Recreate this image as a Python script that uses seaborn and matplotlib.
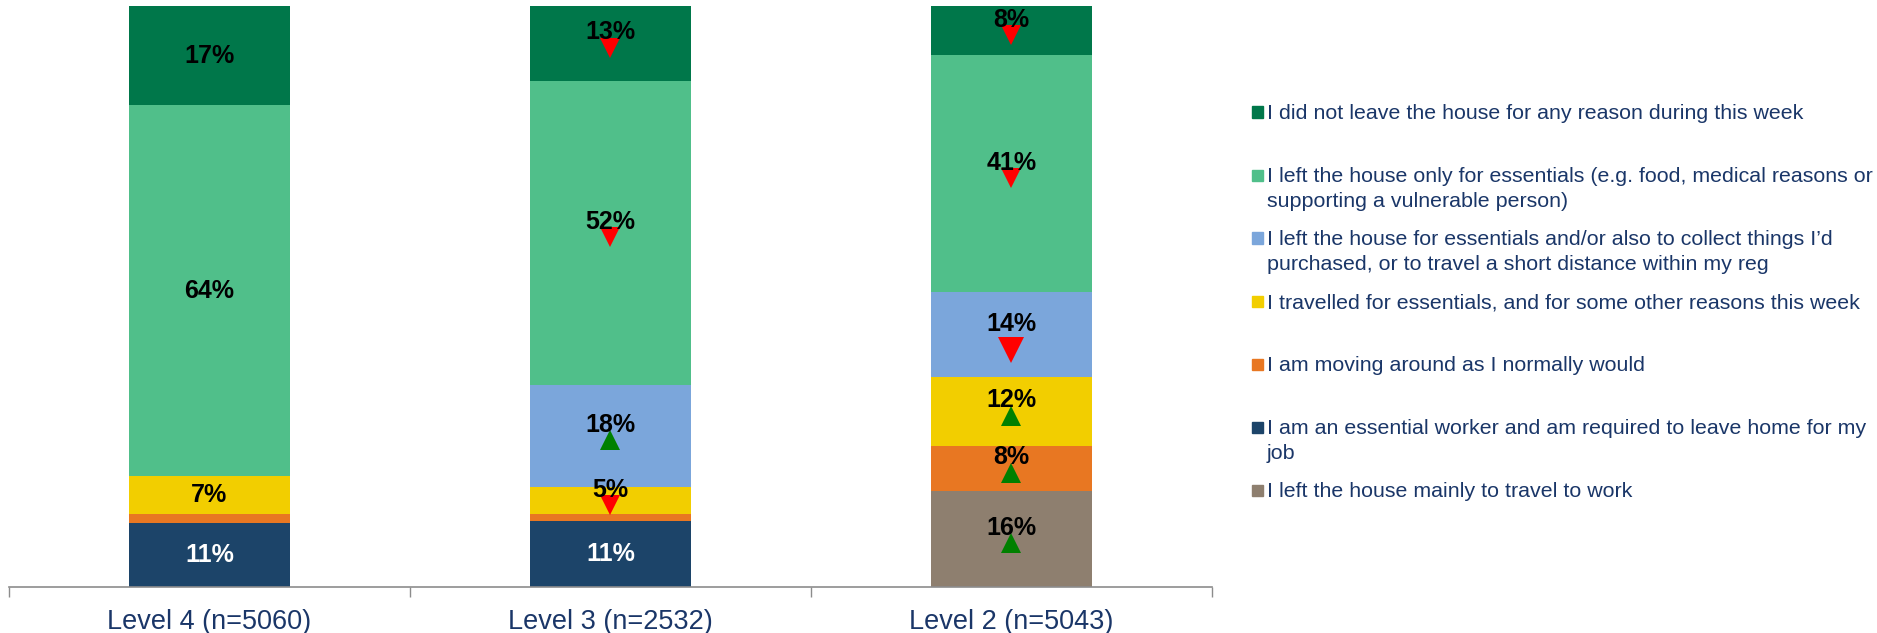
import numpy as np
import pandas as pd
import matplotlib
matplotlib.use("Agg")
import matplotlib.pyplot as plt
import matplotlib.transforms as mtransforms
from matplotlib.patches import Rectangle
import seaborn as sns

# Categories on the x axis
levels = ["Level 4 (n=5060)", "Level 3 (n=2532)", "Level 2 (n=5043)"]

# Series names, bottom-to-top stacking order
series = [
    "I left the house mainly to travel to work",
    "I am an essential worker and am required to leave home for my\njob",
    "I am moving around as I normally would",
    "I travelled for essentials, and for some other reasons this week",
    "I left the house for essentials and/or also to collect things I\u2019d\npurchased, or to travel a short distance within my reg",
    "I left the house only for essentials (e.g. food, medical reasons or\nsupporting a vulnerable person)",
    "I did not leave the house for any reason during this week",
]

# Segment heights (% of respondents)
travel_work = [0, 0, 16.5]
essential_worker = [11.1, 11.3, 0]
moving_normally = [1.4, 1.2, 7.8]
travelled_other = [6.6, 4.7, 11.8]
essentials_collect = [0, 17.5, 14.6]
essentials_only = [63.8, 52.4, 40.8]
did_not_leave = [17.1, 12.9, 8.5]

# Printed data labels
travel_work_lbl = ["", "", "16%"]
essential_worker_lbl = ["11%", "11%", ""]
moving_normally_lbl = ["", "", "8%"]
travelled_other_lbl = ["7%", "5%", "12%"]
essentials_collect_lbl = ["", "18%", "14%"]
essentials_only_lbl = ["64%", "52%", "41%"]
did_not_leave_lbl = ["17%", "13%", "8%"]

# Significant change arrows vs previous wave
travel_work_chg = ["", "", "up"]
essential_worker_chg = ["", "", ""]
moving_normally_chg = ["", "", "up"]
travelled_other_chg = ["", "down", "up"]
essentials_collect_chg = ["", "up", "down"]
essentials_only_chg = ["", "down", "down"]
did_not_leave_chg = ["", "down", "down"]

values = [travel_work, essential_worker, moving_normally, travelled_other,
          essentials_collect, essentials_only, did_not_leave]
labels = [travel_work_lbl, essential_worker_lbl, moving_normally_lbl, travelled_other_lbl,
          essentials_collect_lbl, essentials_only_lbl, did_not_leave_lbl]
changes = [travel_work_chg, essential_worker_chg, moving_normally_chg, travelled_other_chg,
           essentials_collect_chg, essentials_only_chg, did_not_leave_chg]

colors = ["#8E7F6F", "#1C4469", "#E87722", "#F2CE00", "#7BA6DB", "#50BF8A", "#00774A"]
label_colors = ["black", "white", "black", "black", "black", "black", "black"]
navy = "#1A3668"

sns.set_style("white")
plt.rcParams["font.family"] = ["Liberation Sans", "DejaVu Sans"]

fig = plt.figure(figsize=(18.77, 6.33), dpi=100)
ax = fig.add_axes([9 / 1877, 46 / 633, 1203 / 1877, 581 / 633])

bottoms = np.zeros(len(levels))
for name, vals, col in zip(series, values, colors):
    df = pd.DataFrame({"level": levels, "value": vals})
    sns.barplot(data=df, x="level", y="value", order=levels, bottom=bottoms,
                color=col, saturation=1, width=0.4, errorbar=None, linewidth=0, ax=ax)
    bottoms = bottoms + np.array(vals)

# data labels and change triangles
lbl_up = mtransforms.offset_copy(ax.transData, fig=fig, y=8, units="points")
tri_dn = mtransforms.offset_copy(ax.transData, fig=fig, y=-3, units="points")
tri_dn_big = mtransforms.offset_copy(ax.transData, fig=fig, y=-11, units="points")
base = np.zeros(len(levels))
for k, (vals, lbls, chgs) in enumerate(zip(values, labels, changes)):
    for i in range(len(levels)):
        center = base[i] + vals[i] / 2
        if lbls[i]:
            tr = lbl_up if chgs[i] else ax.transData
            ax.text(i, center, lbls[i], ha="center", va="center", fontsize=18,
                    fontweight="bold", color=label_colors[k], transform=tr)
        if chgs[i]:
            big = (k == 4 and i == 2)
            ax.plot(i, center, marker="v" if chgs[i] == "down" else "^",
                    color="#FF0000" if chgs[i] == "down" else "#008000",
                    markersize=19 if big else 14, markeredgewidth=0,
                    transform=tri_dn_big if big else tri_dn)
    base = base + np.array(vals)

ax.set_xlim(-0.5, 2.5)
ax.set_ylim(0, 100)
ax.set_xlabel("")
ax.set_ylabel("")
ax.set_yticks([])
for s in ["top", "right", "left"]:
    ax.spines[s].set_visible(False)
ax.spines["bottom"].set_color("#8C8C8C")
ax.spines["bottom"].set_linewidth(1.2)
ax.tick_params(axis="x", which="major", bottom=True, length=0, pad=16,
               labelsize=19.5, labelcolor=navy)
ax.set_xticks([-0.5, 0.5, 1.5, 2.5], minor=True)
ax.tick_params(axis="x", which="minor", bottom=True, length=7, width=1,
               color="#8C8C8C", direction="out")

# legend, top-to-bottom is reverse stacking order
for j, k in enumerate(range(len(series) - 1, -1, -1)):
    ypx = 112 + j * 63
    fig.patches.append(Rectangle((1252 / 1877, 1 - (ypx + 5.5) / 633), 11 / 1877, 11 / 633,
                                 transform=fig.transFigure, color=colors[k], figure=fig))
    fig.text(1267 / 1877, 1 - (ypx - 8) / 633, series[k], ha="left", va="top",
             fontsize=15.4, color=navy, linespacing=1.38)

fig.savefig("out.png", dpi=100)
